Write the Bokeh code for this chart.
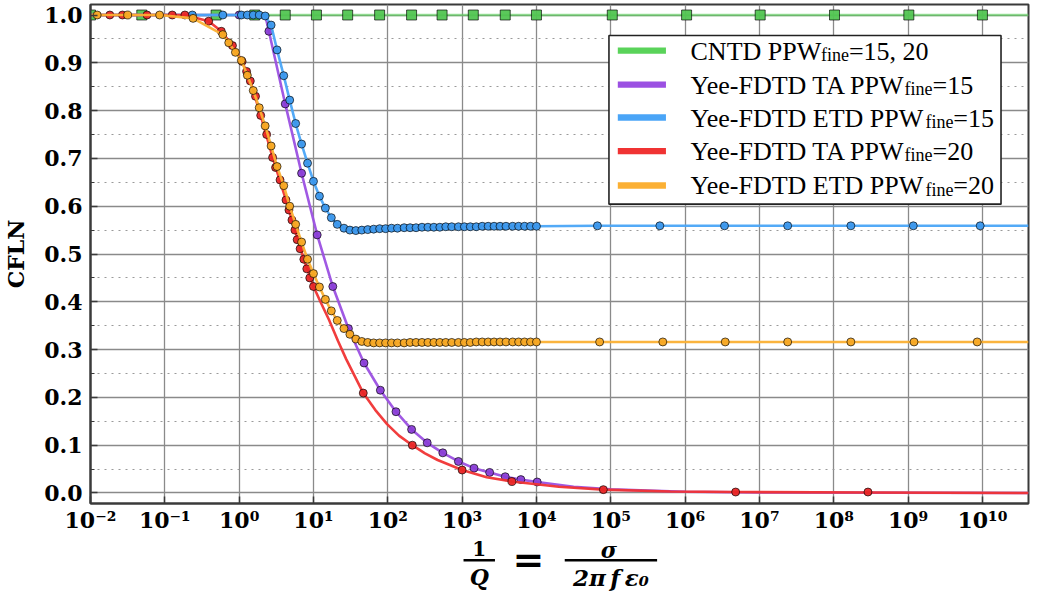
import numpy as np
from bokeh.plotting import figure
from bokeh.layouts import column
from bokeh.models import FixedTicker, PrintfTickFormatter, Label, BoxAnnotation, Range1d
from bokeh.core.properties import value
from bokeh.embed import file_html
from bokeh.resources import INLINE

# ---------------- data (x stored as log10 of 1/Q) ----------------
# CNTD PPW_fine = 15, 20
cntd_mk_lx = [-2.0, -1.31, -0.31, 0.21, 0.62, 1.04, 1.46, 1.89, 2.32, 2.73, 3.15, 3.58, 4.0,
              5.02, 6.02, 7.01, 8.01, 9.01, 10.0]
cntd_mk_y = [1.0, 1.0, 1.0, 1.0, 1.0, 1.0, 1.0, 1.0, 1.0, 1.0, 1.0, 1.0, 1.0,
             1.0, 1.0, 1.0, 1.0, 1.0, 1.0]
cntd_ln_lx = [-2.0, 10.62]
cntd_ln_y = [1.0, 1.0]

# Yee-FDTD TA PPW_fine = 15
ta15_mk_lx = [0.0, 0.40, 0.62, 0.84, 1.05, 1.26, 1.47, 1.68, 1.90, 2.11, 2.32, 2.53, 2.74, 2.95,
              3.16, 3.37, 3.58, 3.79, 4.01]
ta15_mk_y = [1.0, 0.966, 0.814, 0.669, 0.540, 0.432, 0.344, 0.272, 0.215, 0.170, 0.133, 0.105,
             0.084, 0.066, 0.052, 0.043, 0.034, 0.028, 0.023]
ta15_ln_lx = [-2.0, 0.35, 0.40, 0.62, 0.84, 1.05, 1.26, 1.47, 1.68, 1.90, 2.11, 2.32, 2.53, 2.74,
              2.95, 3.16, 3.37, 3.58, 3.79, 4.01, 4.5, 5.0, 6.0, 7.0, 10.62]
ta15_ln_y = [1.0, 1.0, 0.966, 0.814, 0.669, 0.540, 0.432, 0.344, 0.272, 0.215, 0.170, 0.133,
             0.105, 0.084, 0.066, 0.052, 0.043, 0.034, 0.028, 0.023, 0.013, 0.0075, 0.0025,
             0.001, 0.0]

# Yee-FDTD ETD PPW_fine = 15
etd15_mk_lx = [-0.63, -0.22, 0.03, 0.11, 0.19, 0.27, 0.35, 0.43, 0.51, 0.60, 0.68, 0.76, 0.84,
               0.92, 1.00, 1.08, 1.16, 1.24, 1.32, 1.41, 1.49, 1.57, 1.65, 1.73, 1.81, 1.89,
               1.97, 2.05, 2.13, 2.22, 2.30, 2.38, 2.46, 2.54, 2.62, 2.70, 2.78, 2.86, 2.95,
               3.03, 3.11, 3.19, 3.27, 3.35, 3.43, 3.51, 3.59, 3.68, 3.76, 3.84, 3.92, 4.00,
               4.82, 5.66, 6.53, 7.38, 8.23, 9.07, 9.97]
etd15_mk_y = [1.0, 1.0, 1.0, 1.0, 1.0, 1.0, 0.998, 0.979, 0.927, 0.873, 0.822, 0.773, 0.730,
              0.690, 0.652, 0.621, 0.596, 0.576, 0.562, 0.554, 0.550, 0.549, 0.550, 0.551,
              0.552, 0.553, 0.553, 0.554, 0.554, 0.555, 0.555, 0.555, 0.556, 0.556, 0.556,
              0.556, 0.557, 0.557, 0.557, 0.557, 0.557, 0.557, 0.558, 0.558, 0.558, 0.558,
              0.558, 0.558, 0.558, 0.558, 0.558, 0.558,
              0.559, 0.559, 0.559, 0.559, 0.559, 0.559, 0.559]

# Yee-FDTD TA PPW_fine = 20
ta20_mk_lx = [-1.74, -1.57, -1.24, -0.90, -0.73, -0.41, -0.24, -0.09, 0.04, 0.10, 0.15, 0.22,
              0.29, 0.37, 0.45, 0.49, 0.55, 0.63, 0.67, 0.71, 0.75, 0.78, 0.82, 0.87, 0.91,
              0.95, 1.00, 1.67, 2.33, 3.00, 3.67, 4.90, 6.68, 8.46]
ta20_mk_y = [1.0, 1.0, 1.0, 1.0, 1.0, 0.987, 0.966, 0.936, 0.903, 0.882, 0.862, 0.830, 0.790,
             0.750, 0.702, 0.681, 0.655, 0.613, 0.592, 0.571, 0.550, 0.530, 0.511, 0.489,
             0.469, 0.450, 0.432, 0.209, 0.100, 0.048, 0.024, 0.007, 0.002, 0.002]
ta20_ln_lx = [-2.0, -0.73, -0.41, -0.24, -0.09, 0.04, 0.15, 0.29, 0.45, 0.63, 0.75, 0.87, 1.00,
              1.10, 1.21, 1.33, 1.44, 1.55, 1.67, 1.83, 1.99, 2.15, 2.33, 2.50, 2.67, 3.00,
              3.33, 3.67, 4.30, 4.90, 5.80, 6.68, 8.46, 10.62]
ta20_ln_y = [1.0, 1.0, 0.987, 0.966, 0.936, 0.903, 0.862, 0.790, 0.702, 0.613, 0.550, 0.489,
             0.432, 0.398, 0.362, 0.318, 0.280, 0.246, 0.209, 0.174, 0.144, 0.120, 0.100,
             0.083, 0.069, 0.048, 0.033, 0.024, 0.013, 0.007, 0.003, 0.002, 0.001, 0.0]

# Yee-FDTD ETD PPW_fine = 20
etd20_mk_lx = [-1.91, -1.50, -1.07, -0.62, -0.22, -0.14, -0.05, 0.03, 0.11, 0.19, 0.27, 0.35,
               0.43, 0.51, 0.60, 0.68, 0.76, 0.84, 0.92, 1.00, 1.08, 1.16, 1.24, 1.32, 1.41,
               1.49, 1.57, 1.65, 1.73, 1.81, 1.89, 1.97, 2.05, 2.13, 2.22, 2.30, 2.38, 2.46,
               2.54, 2.62, 2.70, 2.78, 2.86, 2.95, 3.03, 3.11, 3.19, 3.27, 3.35, 3.43, 3.51,
               3.59, 3.68, 3.76, 3.84, 3.92, 4.00,
               4.85, 5.70, 6.54, 7.38, 8.23, 9.08, 9.93]
etd20_mk_y = [1.0, 1.0, 1.0, 0.993, 0.959, 0.942, 0.922, 0.905, 0.874, 0.842, 0.806, 0.768,
              0.726, 0.683, 0.643, 0.600, 0.562, 0.525, 0.489, 0.459, 0.431, 0.405, 0.381,
              0.361, 0.344, 0.332, 0.322, 0.317, 0.315, 0.314, 0.314, 0.314, 0.314, 0.314,
              0.314, 0.315, 0.315, 0.315, 0.315, 0.315, 0.315, 0.315, 0.315, 0.315, 0.315,
              0.315, 0.316, 0.316, 0.316, 0.316, 0.316, 0.316, 0.316, 0.316, 0.316, 0.316,
              0.316,
              0.316, 0.316, 0.316, 0.316, 0.316, 0.316, 0.316]

x_tick_exp = [-2, -1, 0, 1, 2, 3, 4, 5, 6, 7, 8, 9, 10]
y_ticks = [0.0, 0.1, 0.2, 0.3, 0.4, 0.5, 0.6, 0.7, 0.8, 0.9, 1.0]
y_minor = [0.05, 0.15, 0.25, 0.35, 0.45, 0.55, 0.65, 0.75, 0.85, 0.95]

legend_rows = [("CNTD PPW", "fine", "=15, 20"),
               ("Yee-FDTD TA PPW", "fine", "=15"),
               ("Yee-FDTD ETD PPW", "fine", "=15"),
               ("Yee-FDTD TA PPW", "fine", "=20"),
               ("Yee-FDTD ETD PPW", "fine", "=20")]

# ---------------- styling / layout ----------------
GREEN, PURPLE, BLUE, RED, ORANGE = "#5ad35a", "#9b50e2", "#4aa5f7", "#f03333", "#fbb034"
GREEN_M, PURPLE_M, BLUE_M, RED_M, ORANGE_M = "#52c552", "#8a3ed6", "#3b97ec", "#e82626", "#f7a823"

W, H = 1030, 591          # whole page content
H1 = 535                  # main figure height; the x-label strip fills the rest
FR_L, FR_R, FR_T = 88, 2, 4
FR_H = 501
FR_B = H1 - FR_T - FR_H
FR_W = W - FR_L - FR_R
XL0, XL1 = -2.0, 10.62
Y0, Y1 = -0.022, 1.022
SX, SY = W / 1046.0, H / 607.0


def rx2x(rx):
    cx = rx * SX
    return 10 ** (XL0 + (cx - FR_L) / FR_W * (XL1 - XL0))


def ry2y(ry):
    cy = ry * SY
    return Y1 - (cy - FR_T) / FR_H * (Y1 - Y0)


TIMES = {' ': 250, '-': 333, ',': 250, '=': 564, '0': 500, '1': 500, '2': 500, '5': 500,
         'A': 722, 'C': 667, 'D': 722, 'E': 611, 'F': 556, 'N': 722, 'P': 556, 'T': 611,
         'W': 944, 'Y': 722, 'e': 444, 'f': 333, 'i': 278, 'n': 500}
KERN = {"TA": -5.0}


def tw(s, size):
    w = sum(TIMES[c] for c in s) / 1000.0 * size
    for pair, k in KERN.items():
        if pair in s:
            w += k
    return w


def tx(lx):
    return 10.0 ** np.array(lx)


p = figure(width=W, height=H1, x_axis_type="log",
           x_range=Range1d(10 ** XL0, 10 ** XL1), y_range=Range1d(Y0, Y1),
           output_backend="svg", toolbar_location=None,
           min_border_left=FR_L, min_border_right=FR_R, min_border_top=FR_T,
           min_border_bottom=FR_B)
p.background_fill_color = "white"
p.border_fill_color = "white"
p.outline_line_color = "#3a3a3a"
p.outline_line_width = 2

xt = FixedTicker(ticks=[10.0 ** k for k in x_tick_exp], minor_ticks=[])
yt = FixedTicker(ticks=y_ticks, minor_ticks=y_minor)
p.xaxis.ticker = xt
p.xgrid.ticker = xt
p.yaxis.ticker = yt
p.ygrid.ticker = yt
p.yaxis.formatter = PrintfTickFormatter(format="%.1f")

SUP = str.maketrans("-0123456789", "⁻⁰¹²³⁴⁵⁶⁷⁸⁹")
p.xaxis.major_label_overrides = {10.0 ** k: "10" + str(k).translate(SUP) for k in x_tick_exp}

for ax in (p.xaxis, p.yaxis):
    ax.axis_line_color = "#3a3a3a"
    ax.axis_line_width = 2
    ax.major_tick_in = 7
    ax.major_tick_out = 0
    ax.minor_tick_in = 4
    ax.minor_tick_out = 0
    ax.major_tick_line_color = "#3a3a3a"
    ax.minor_tick_line_color = "#3a3a3a"
    ax.major_tick_line_width = 1.5
    ax.major_label_text_font = "DejaVu Serif"
    ax.major_label_text_font_style = "bold"
    ax.major_label_text_font_size = "22px"
    ax.major_label_text_color = "black"
p.xaxis.major_label_standoff = 3
p.yaxis.major_label_standoff = 8
p.yaxis.axis_label = "CFLN"
p.yaxis.axis_label_text_font = "DejaVu Serif"
p.yaxis.axis_label_text_font_style = "bold"
p.yaxis.axis_label_text_font_size = "22px"
p.yaxis.axis_label_text_color = "black"
p.yaxis.axis_label_standoff = 12

for g in (p.xgrid, p.ygrid):
    g.grid_line_color = "#8a8a8a"
    g.grid_line_width = 1.3
p.ygrid.minor_grid_line_color = "#9a9a9a"
p.ygrid.minor_grid_line_dash = "2 5"
p.ygrid.minor_grid_line_width = 1.2

# ---------------- series ----------------
series = [
    (cntd_ln_lx, cntd_ln_y, cntd_mk_lx, cntd_mk_y, GREEN, GREEN_M, "square", 10, 0.6),
    (ta15_ln_lx, ta15_ln_y, ta15_mk_lx, ta15_mk_y, PURPLE, PURPLE_M, "circle", 8, 0.95),
    ([-2.0] + etd15_mk_lx + [10.62], [1.0] + etd15_mk_y + [0.559],
     etd15_mk_lx, etd15_mk_y, BLUE, BLUE_M, "circle", 8, 0.95),
    (ta20_ln_lx, ta20_ln_y, ta20_mk_lx, ta20_mk_y, RED, RED_M, "circle", 8, 0.95),
    ([-2.0] + etd20_mk_lx + [10.62], [1.0] + etd20_mk_y + [0.316],
     etd20_mk_lx, etd20_mk_y, ORANGE, ORANGE_M, "circle", 8, 0.95),
]
for ln_lx, ln_y, mk_lx, mk_y, col, mcol, mk, sz, la in series:
    p.line(tx(ln_lx), ln_y, line_color=col, line_width=2.6, line_alpha=la)
    p.scatter(tx(mk_lx), mk_y, marker=mk, size=sz, fill_color=mcol, fill_alpha=0.95,
              line_color="black", line_alpha=0.65, line_width=1)

# ---------------- legend (drawn by hand for subscripts) ----------------
p.add_layout(BoxAnnotation(left=rx2x(617), right=rx2x(1016), top=ry2y(36), bottom=ry2y(210),
                           fill_color="white", fill_alpha=1.0, line_color="#222222",
                           line_width=1.6, line_alpha=1.0))
row_y = [51.7, 86.7, 120.7, 155.3, 190.7]
row_col = [GREEN, PURPLE, BLUE, RED, ORANGE]
TX0 = 700
for (pre, sub, suf), ry, col in zip(legend_rows, row_y, row_col):
    p.add_layout(BoxAnnotation(left=rx2x(626), right=rx2x(675), top=ry2y(ry - 3.3),
                               bottom=ry2y(ry + 3.3), fill_color=col, fill_alpha=1.0,
                               line_alpha=0))
    w1 = tw(pre, 26) / SX
    w2 = tw(sub, 18) / SX
    p.add_layout(Label(x=rx2x(TX0), y=ry2y(ry + 0.5), text=pre, text_font="Liberation Serif",
                       text_font_size="26px", text_baseline="alphabetic", text_align="left",
                       text_color="black"))
    p.add_layout(Label(x=rx2x(TX0 + w1), y=ry2y(ry + 4.5), text=sub,
                       text_font="Liberation Serif", text_font_size="18px",
                       text_baseline="alphabetic", text_align="left", text_color="black"))
    p.add_layout(Label(x=rx2x(TX0 + w1 + w2), y=ry2y(ry + 0.5), text=suf,
                       text_font="Liberation Serif", text_font_size="26px",
                       text_baseline="alphabetic", text_align="left", text_color="black"))

# ---------------- x-axis label strip: 1/Q = sigma / (2 pi f eps0) ----------------
# the strip's frame is aligned with the main frame; its coordinates are reference pixels
p2 = figure(width=W, height=H - H1, x_range=Range1d(FR_L / SX, (W - FR_R) / SX),
            y_range=Range1d(607, H1 / SY), output_backend="svg", toolbar_location=None,
            x_axis_location=None, y_axis_location=None, min_border=0,
            min_border_left=FR_L, min_border_right=FR_R)
p2.outline_line_color = None
p2.background_fill_color = "white"
p2.border_fill_color = "white"
p2.grid.visible = False


def lab(rx, ry, text, size, style="bold"):
    p2.text(x=[rx], y=[ry], text=[text], text_font=value("DejaVu Serif"),
            text_font_size=value(size), text_font_style=style, text_align="center",
            text_baseline="middle", text_color="black")


def bar(r0, r1, ry):
    p2.segment(x0=[r0], y0=[ry], x1=[r1], y1=[ry], line_color="black", line_width=2.5)


lab(485, 563, "1", "20px")
bar(469, 501, 575)
lab(485, 592.5, "Q", "22px", "bold italic")
lab(535, 574, "=", "38px")
lab(617, 564, "σ", "22px", "bold italic")
bar(572, 666, 575)
lab(619, 592.5, "2π\u2009f\u2009ε₀", "23px", "bold italic")

open("out.html", "w").write(file_html(column(p, p2), INLINE))
